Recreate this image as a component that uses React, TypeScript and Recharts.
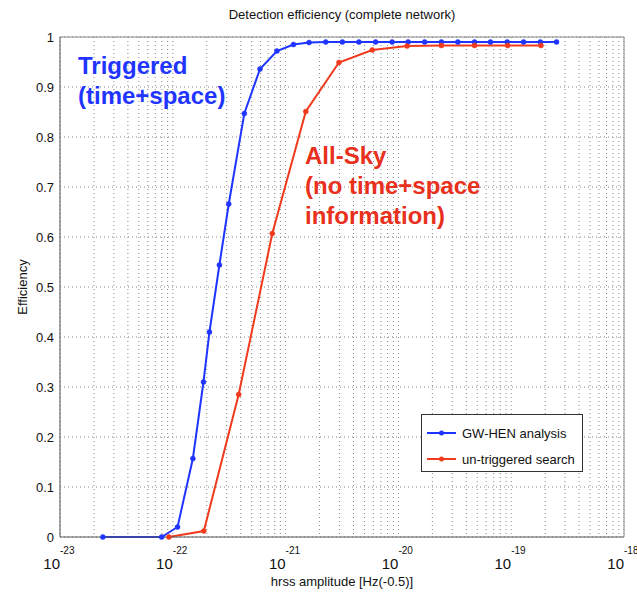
import React from "react";
import {
  LineChart,
  Line,
  XAxis,
  YAxis,
  CartesianGrid,
  ReferenceLine,
} from "recharts";

// ---- data (x values are log10 of hrss amplitude) ----
const decades = [-23, -22, -21, -20, -19, -18];
const minorMultipliers = [2, 3, 4, 5, 6, 7, 8, 9];
const yTicks = [0, 0.1, 0.2, 0.3, 0.4, 0.5, 0.6, 0.7, 0.8, 0.9, 1];

const blueLogHrss = [
  -22.62, -22.099, -21.958, -21.822, -21.728, -21.675, -21.587, -21.504,
  -21.366, -21.227, -21.077, -20.93, -20.792, -20.644, -20.497, -20.35,
  -20.202, -20.056, -19.914, -19.767, -19.619, -19.473, -19.325, -19.184,
  -19.036, -18.89, -18.742, -18.598,
];
const blueEff = [
  0, 0, 0.02, 0.157, 0.31, 0.41, 0.544, 0.666, 0.847, 0.936, 0.972, 0.985,
  0.989, 0.99, 0.99, 0.99, 0.99, 0.99, 0.99, 0.99, 0.99, 0.99, 0.99, 0.99,
  0.99, 0.99, 0.99, 0.99,
];

const redLogHrss = [
  -22.035, -21.725, -21.416, -21.118, -20.821, -20.527, -20.232, -19.923,
  -19.619, -19.325, -19.031, -18.736,
];
const redEff = [
  0, 0.012, 0.285, 0.607, 0.851, 0.949, 0.974, 0.982, 0.983, 0.983, 0.983,
  0.983,
];

const seriesNames = ["GW-HEN analysis", "un-triggered search"];

const BLUE = "#1f35ff";
const RED = "#f03a1e";
const FONT = "'Liberation Sans', Arial, Helvetica, sans-serif";

const blueData = blueLogHrss.map((x, i) => ({ x, y: blueEff[i] }));
const redData = redLogHrss.map((x, i) => ({ x, y: redEff[i] }));

const xTicks: number[] = [];
decades.forEach((d, i) => {
  xTicks.push(d);
  if (i < decades.length - 1) {
    minorMultipliers.forEach((m) => xTicks.push(d + Math.log10(m)));
  }
});

const XTick = (props: any) => {
  const { x, y, payload } = props;
  const v = payload.value;
  if (Math.abs(v - Math.round(v)) > 1e-6) return null;
  return (
    <g>
      <text x={x} y={y + 32} textAnchor="end" fontSize={15} fill="#111" fontFamily={FONT}>
        10
      </text>
      <text x={x} y={y + 17} textAnchor="start" fontSize={10} fill="#111" fontFamily={FONT}>
        {Math.round(v)}
      </text>
    </g>
  );
};

const YTick = (props: any) => {
  const { x, y, payload } = props;
  return (
    <text x={x - 6} y={y} dy="0.35em" textAnchor="end" fontSize={13} fill="#111" fontFamily={FONT}>
      {String(payload.value)}
    </text>
  );
};

const annot: React.CSSProperties = {
  position: "absolute",
  fontFamily: FONT,
  fontWeight: "bold",
  fontSize: 24,
  lineHeight: "30px",
  whiteSpace: "nowrap",
};

export default function App() {
  return (
    <div style={{ position: "absolute", left: 0, top: 0, width: 637, height: 594, background: "#fff" }}>
      <LineChart
        width={637}
        height={594}
        margin={{ top: 37, right: 13, left: 10, bottom: 5 }}
      >
        <CartesianGrid stroke="#888" strokeDasharray="1 3" />
        <XAxis
          dataKey="x"
          type="number"
          domain={[-23, -18]}
          ticks={xTicks}
          interval={0}
          allowDataOverflow
          tick={<XTick />}
          tickLine={false}
          tickSize={0}
          tickMargin={0}
          height={52}
          stroke="#555"
        />
        <YAxis
          dataKey="y"
          type="number"
          domain={[0, 1]}
          ticks={yTicks}
          interval={0}
          tick={<YTick />}
          tickLine={false}
          tickSize={0}
          tickMargin={0}
          width={50}
          stroke="#555"
        />
        <ReferenceLine y={1} stroke="#888" />
        <ReferenceLine x={-18} stroke="#888" />
        <Line
          data={blueData}
          dataKey="y"
          name={seriesNames[0]}
          stroke={BLUE}
          strokeWidth={2}
          dot={{ r: 2.5, fill: BLUE, stroke: BLUE, strokeWidth: 0.5 }}
          isAnimationActive={false}
        />
        <Line
          data={redData}
          dataKey="y"
          name={seriesNames[1]}
          stroke={RED}
          strokeWidth={2}
          dot={{ r: 2.5, fill: RED, stroke: RED, strokeWidth: 0.5 }}
          isAnimationActive={false}
        />
      </LineChart>

      <div
        style={{
          position: "absolute",
          left: 421,
          top: 414,
          width: 162,
          height: 58,
          border: "1px solid #333",
          background: "#fff",
          fontFamily: FONT,
          fontSize: 13,
          color: "#111",
          boxSizing: "border-box",
          paddingTop: 7,
        }}
      >
        {[BLUE, RED].map((c, i) => (
          <div key={i} style={{ display: "flex", alignItems: "center", height: 22, marginBottom: i === 0 ? 4 : 0 }}>
            <svg width={36} height={10} style={{ marginLeft: 4 }}>
              <line x1={1} y1={5} x2={30} y2={5} stroke={c} strokeWidth={2} />
              <circle cx={15.5} cy={5} r={2.5} fill={c} />
            </svg>
            <span>{seriesNames[i]}</span>
          </div>
        ))}
      </div>

      <div
        style={{
          position: "absolute",
          left: 60,
          width: 564,
          top: 7,
          textAlign: "center",
          fontFamily: FONT,
          fontSize: 13,
          color: "#111",
        }}
      >
        Detection efficiency (complete network)
      </div>
      <div
        style={{
          position: "absolute",
          left: 60,
          width: 564,
          top: 574,
          textAlign: "center",
          fontFamily: FONT,
          fontSize: 13,
          color: "#111",
        }}
      >
        hrss amplitude [Hz(-0.5)]
      </div>
      <div
        style={{
          position: "absolute",
          left: 22,
          top: 287,
          transform: "translate(-50%, -50%) rotate(-90deg)",
          fontFamily: FONT,
          fontSize: 13,
          color: "#111",
          whiteSpace: "nowrap",
        }}
      >
        Efficiency
      </div>

      <div style={{ ...annot, left: 78, top: 51, color: BLUE }}>
        Triggered
        <br />
        (time+space)
      </div>
      <div style={{ ...annot, left: 305, top: 141, color: "#e8301c" }}>
        All-Sky
        <br />
        (no time+space
        <br />
        information)
      </div>
    </div>
  );
}
